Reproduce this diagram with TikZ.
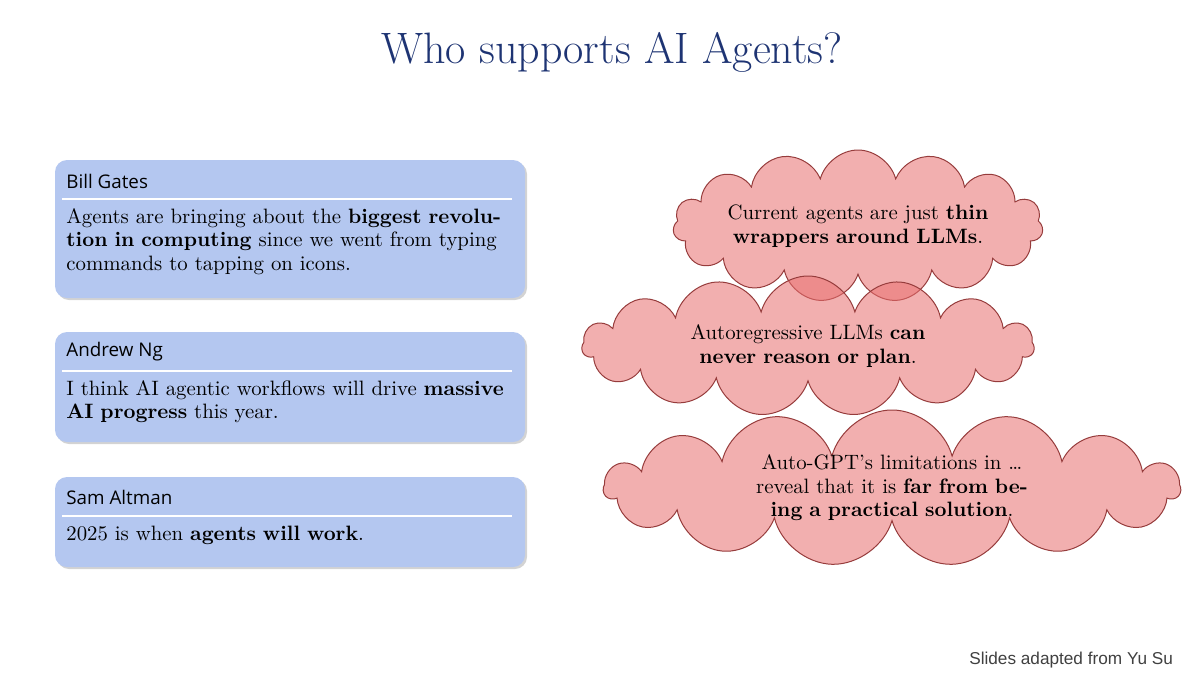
\documentclass[tikz,border=0pt]{standalone}
\usepackage{fontspec}
\newfontfamily\hdr{Open Sans}
\newfontfamily\ftr{Liberation Sans}
\usetikzlibrary{shapes.symbols,shadows}
\definecolor{boxblue}{RGB}{180,199,240}
\definecolor{titleblue}{RGB}{30,52,115}
\definecolor{cloudfill}{RGB}{232,110,110}
\definecolor{cloudline}{RGB}{150,60,60}
\tikzset{
 qbox/.style={fill=boxblue,rounded corners=6pt,drop shadow={opacity=0.35,shadow xshift=1pt,shadow yshift=-1pt}},
 qtext/.style={anchor=north west,text width=222pt,align=left,inner sep=0pt,font=\fontsize{10.4}{11.8}\selectfont},
 qhead/.style={anchor=west,inner sep=0pt,font=\hdr\fontsize{9.4}{11}\selectfont},
 thought/.style={cloud,cloud puffs=15,cloud ignores aspect,inner sep=0pt,draw=cloudline,line width=0.5pt,fill=cloudfill,fill opacity=0.55},
 ctext/.style={align=center,font=\fontsize{10.4}{11.8}\selectfont}
}
\begin{document}
\begin{tikzpicture}[x=0.5pt,y=-0.5pt]
\useasboundingbox (0,0) rectangle (1200,675);
\node (title) at (612,52) {\fontsize{22}{26}\selectfont\color{titleblue}Who supports AI Agents?};
% Bill Gates
\path[qbox] (55,160) rectangle (525,298);
\node[qhead] (bgh) at (66,181) {Bill Gates};
\draw[white,line width=1pt] (62,199) -- (512,199);
\node[qtext] (bgt) at (66,208) {Agents are bringing about the \textbf{biggest revolution in computing} since we went from typing commands to tapping on icons.};
% Andrew Ng
\path[qbox] (55,332) rectangle (525,442);
\node[qhead] (ngh) at (66,352) {Andrew Ng};
\draw[white,line width=1pt] (62,371) -- (512,371);
\node[qtext] (ngt) at (66,380) {I think AI agentic workflows will drive \textbf{massive AI progress} this year.};
% Sam Altman
\path[qbox] (55,477) rectangle (525,567);
\node[qhead] (sah) at (66,497) {Sam Altman};
\draw[white,line width=1pt] (62,516) -- (512,516);
\node[qtext] (sat) at (66,526) {2025 is when \textbf{agents will work}.};
% clouds
\node[thought,minimum width=185pt,minimum height=76pt] (c1) at (858,226) {};
\node[thought,minimum width=226pt,minimum height=70pt] (c2) at (808,346) {};
\node[thought,minimum width=288pt,minimum height=78pt] (c3) at (892,488) {};
\node[ctext,text width=145pt] (t1) at (c1) {Current agents are just \textbf{thin wrappers around LLMs}.};
\node[ctext,text width=128pt] (t2) at (c2) {Autoregressive LLMs \textbf{can never reason or plan}.};
\node[ctext,text width=180pt] (t3) at (c3) {Auto-GPT's limitations in \dots\ reveal that it is \textbf{far from being a practical solution}.};
\node[anchor=east,text=black!75,font=\ftr\fontsize{8.6}{10}\selectfont] (foot) at (1180,660) {Slides adapted from Yu Su};
\end{tikzpicture}
\end{document}
